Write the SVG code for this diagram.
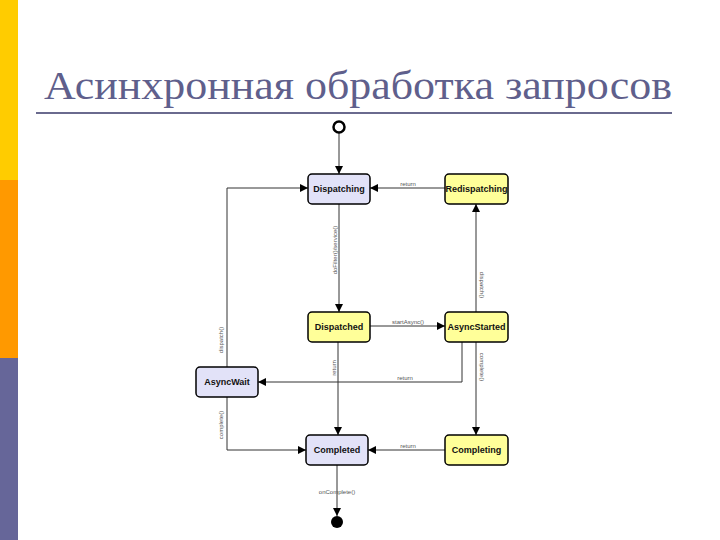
<svg xmlns="http://www.w3.org/2000/svg" width="720" height="540" viewBox="0 0 720 540">
<defs>
<marker id="arr" viewBox="0 0 10 10" refX="10" refY="5" markerWidth="9" markerHeight="8" markerUnits="userSpaceOnUse" orient="auto"><path d="M0,0 L10,5 L0,10 Z" fill="#000"/></marker>
</defs>
<style>
.node{stroke:#000;stroke-width:1.5}
.lav{fill:#e2e2f8}
.yel{fill:#ffff99}
.nt{font-family:"Liberation Sans",Arial,sans-serif;font-size:9px;font-weight:bold;fill:#111;text-anchor:middle}
.ln{fill:none;stroke:#333;stroke-width:1}
.lbl{font-family:"Liberation Sans",Arial,sans-serif;font-size:6px;fill:#555;text-anchor:middle}
</style>
<rect width="720" height="540" fill="#fff"/>
<rect x="0" y="0" width="18" height="180" fill="#ffcc00"/>
<rect x="0" y="180" width="18" height="178" fill="#ff9900"/>
<rect x="0" y="358" width="18" height="182" fill="#666699"/>
<text x="44" y="99" font-family="Liberation Serif,'Times New Roman',serif" font-size="40" fill="#5f5f8c" textLength="628" lengthAdjust="spacingAndGlyphs">Асинхронная обработка запросов</text>
<rect x="36" y="112" width="636" height="2" fill="#6a6a8e"/>
<g id="connectors">
<line class="ln" x1="339" y1="133" x2="339" y2="174" marker-end="url(#arr)"/>
<line class="ln" x1="445" y1="188" x2="370" y2="188" marker-end="url(#arr)"/>
<text class="lbl" x="408" y="186">return</text>
<line class="ln" x1="339" y1="204" x2="339" y2="312" marker-end="url(#arr)"/>
<text class="lbl" transform="translate(337,250) rotate(-90)">doFilter()/service()</text>
<line class="ln" x1="370" y1="326" x2="445" y2="326" marker-end="url(#arr)"/>
<text class="lbl" x="408" y="324">startAsync()</text>
<line class="ln" x1="476" y1="312" x2="476" y2="204" marker-end="url(#arr)"/>
<text class="lbl" transform="translate(480,285) rotate(90)">dispatch()</text>
<line class="ln" x1="476" y1="342" x2="476" y2="435" marker-end="url(#arr)"/>
<text class="lbl" transform="translate(480,367) rotate(90)">complete()</text>
<polyline class="ln" points="462,342 462,382 258,382" marker-end="url(#arr)"/>
<text class="lbl" x="405" y="380">return</text>
<line class="ln" x1="338" y1="342" x2="338" y2="435" marker-end="url(#arr)"/>
<text class="lbl" transform="translate(336,368) rotate(-90)">return</text>
<polyline class="ln" points="227,367 227,188 308,188" marker-end="url(#arr)"/>
<text class="lbl" transform="translate(223,340) rotate(-90)">dispatch()</text>
<polyline class="ln" points="227,397 227,450 306,450" marker-end="url(#arr)"/>
<text class="lbl" transform="translate(223,425) rotate(-90)">complete()</text>
<line class="ln" x1="445" y1="450" x2="368" y2="450" marker-end="url(#arr)"/>
<text class="lbl" x="408" y="448">return</text>
<line class="ln" x1="337" y1="465" x2="337" y2="516" marker-end="url(#arr)"/>
<text class="lbl" x="337" y="494">onComplete()</text>
</g>
<g id="start"><circle cx="339" cy="127" r="5.5" fill="#fff" stroke="#000" stroke-width="2.5"/></g>
<g id="end"><circle cx="337" cy="522" r="6" fill="#000"/></g>
<g id="dispatching"><rect class="node lav" x="308" y="174" width="62" height="30" rx="4"/><text class="nt" x="339" y="192">Dispatching</text></g>
<g id="redispatching"><rect class="node yel" x="445" y="174" width="63" height="30" rx="4"/><text class="nt" x="476.5" y="192">Redispatching</text></g>
<g id="dispatched"><rect class="node yel" x="308" y="312" width="62" height="30" rx="4"/><text class="nt" x="339" y="330">Dispatched</text></g>
<g id="asyncstarted"><rect class="node yel" x="445" y="312" width="63" height="30" rx="4"/><text class="nt" x="476.5" y="330">AsyncStarted</text></g>
<g id="asyncwait"><rect class="node lav" x="196" y="367" width="62" height="30" rx="4"/><text class="nt" x="227" y="385">AsyncWait</text></g>
<g id="completed"><rect class="node lav" x="306" y="435" width="62" height="30" rx="4"/><text class="nt" x="337" y="453">Completed</text></g>
<g id="completing"><rect class="node yel" x="445" y="435" width="63" height="30" rx="4"/><text class="nt" x="476.5" y="453">Completing</text></g>
</svg>
